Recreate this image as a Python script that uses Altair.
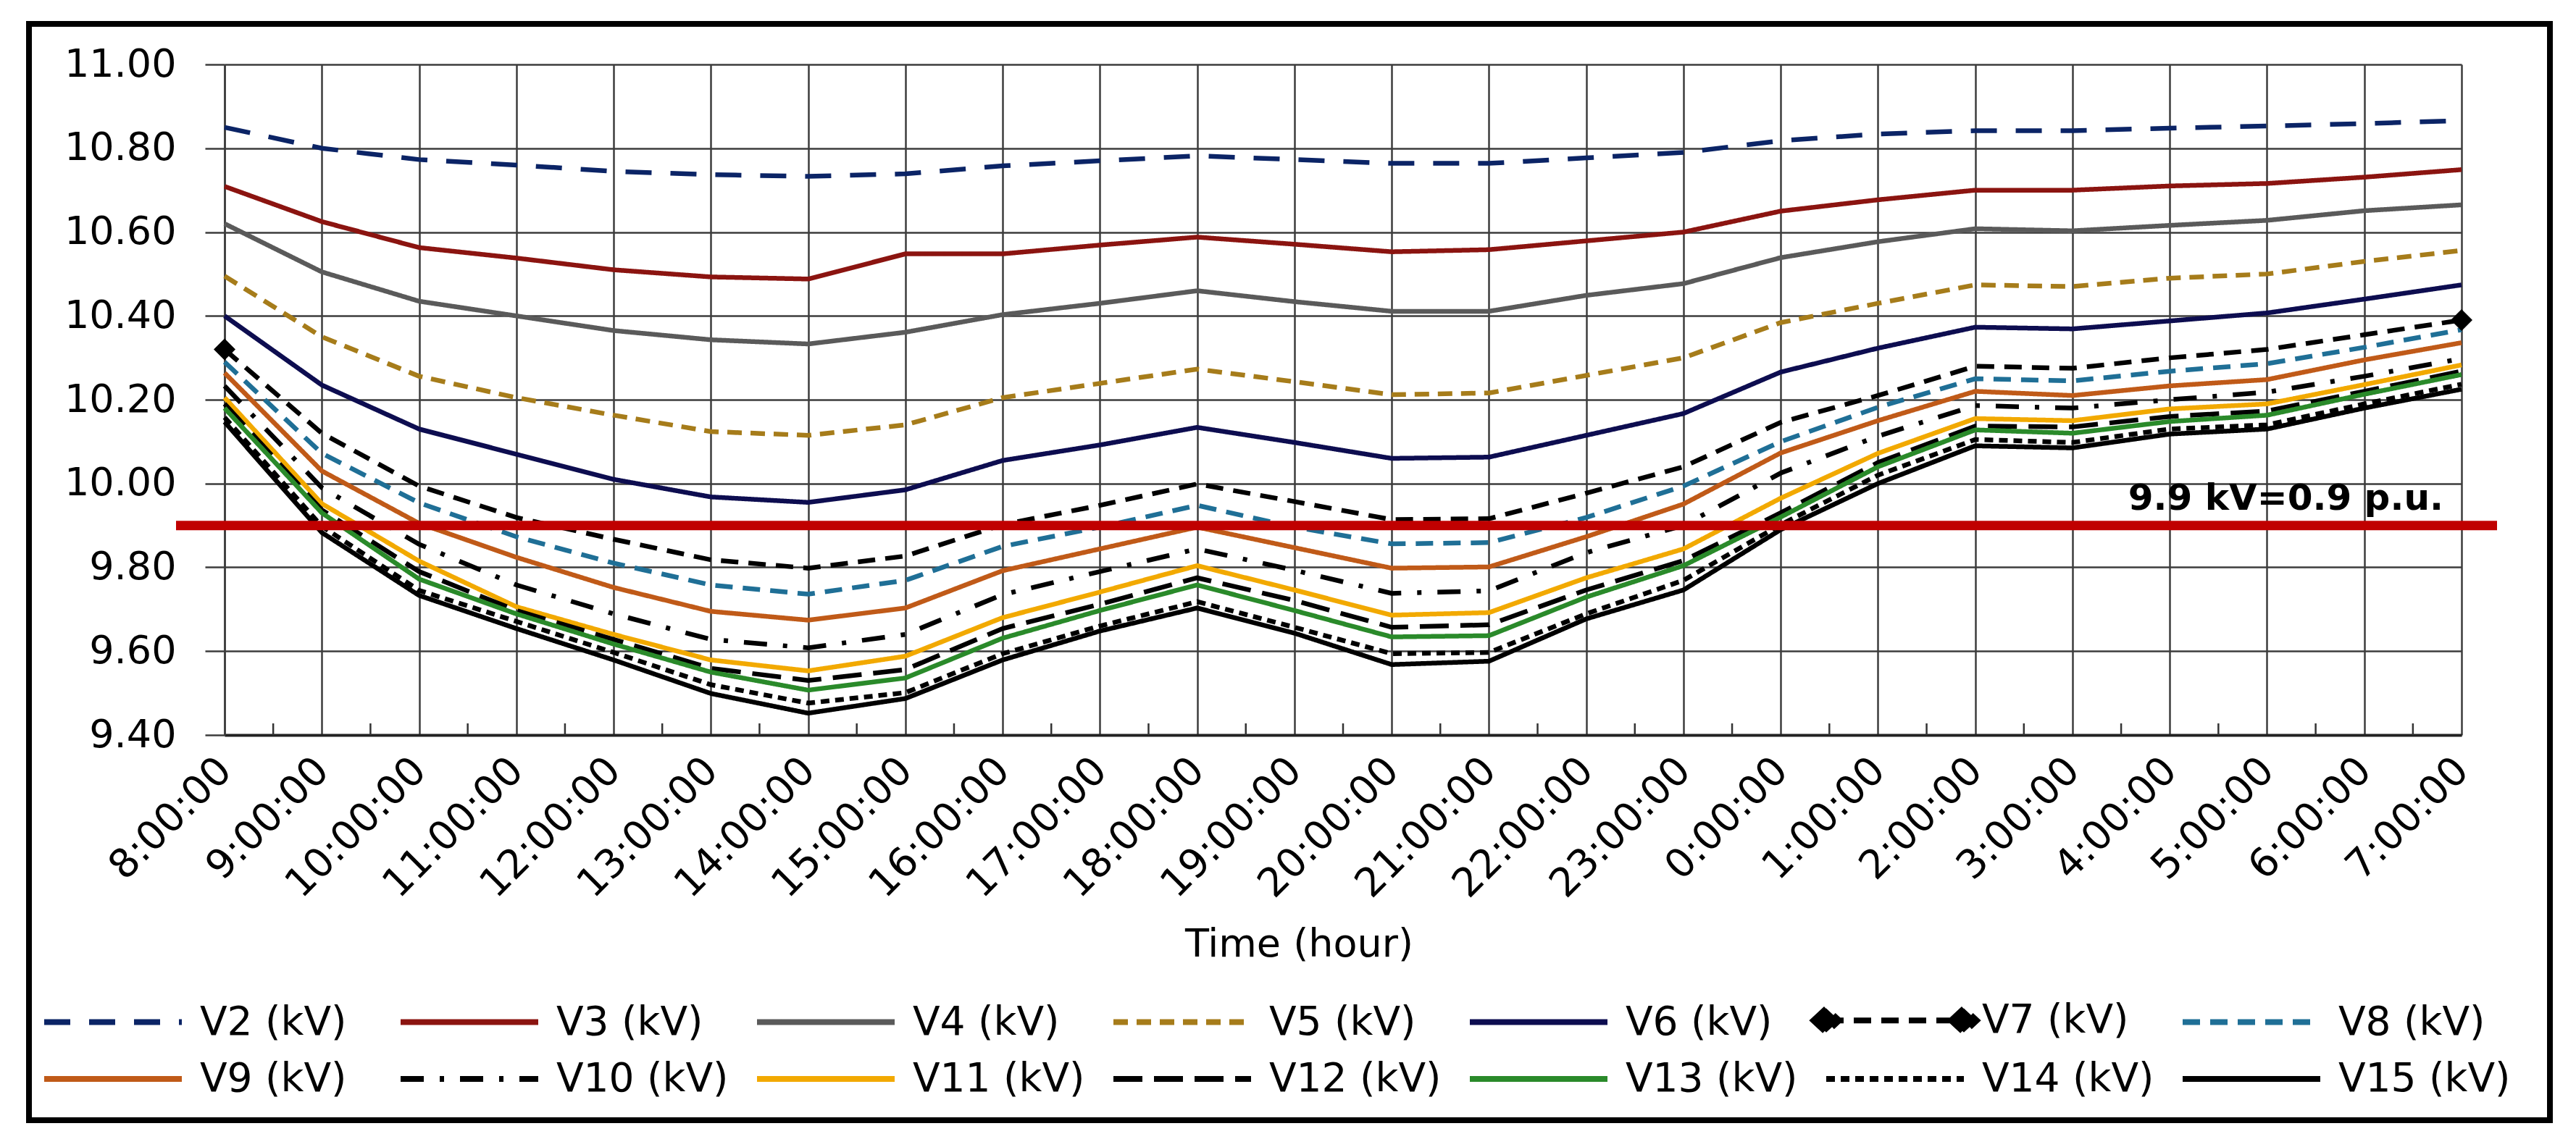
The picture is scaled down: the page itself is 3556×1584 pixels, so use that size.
import pandas as pd
import altair as alt

# hourly profile, 8:00 through 7:00 next morning
hours = ['8:00:00', '9:00:00', '10:00:00', '11:00:00', '12:00:00', '13:00:00',
         '14:00:00', '15:00:00', '16:00:00', '17:00:00', '18:00:00', '19:00:00',
         '20:00:00', '21:00:00', '22:00:00', '23:00:00', '0:00:00', '1:00:00',
         '2:00:00', '3:00:00', '4:00:00', '5:00:00', '6:00:00', '7:00:00']

series = ['V2 (kV)', 'V3 (kV)', 'V4 (kV)', 'V5 (kV)', 'V6 (kV)', 'V7 (kV)', 'V8 (kV)',
          'V9 (kV)', 'V10 (kV)', 'V11 (kV)', 'V12 (kV)', 'V13 (kV)', 'V14 (kV)', 'V15 (kV)']

v2 = [10.850, 10.800, 10.773, 10.760, 10.745, 10.737, 10.733, 10.739, 10.758, 10.770, 10.782, 10.773,
      10.764, 10.764, 10.777, 10.790, 10.818, 10.834, 10.842, 10.842, 10.848, 10.853, 10.859, 10.866]
v3 = [10.709, 10.625, 10.563, 10.538, 10.510, 10.493, 10.488, 10.548, 10.548, 10.569, 10.588, 10.571,
      10.553, 10.558, 10.579, 10.600, 10.650, 10.677, 10.700, 10.700, 10.710, 10.716, 10.731, 10.749]
v4 = [10.620, 10.505, 10.435, 10.400, 10.365, 10.343, 10.333, 10.361, 10.403, 10.430, 10.460, 10.434,
      10.411, 10.411, 10.449, 10.477, 10.539, 10.577, 10.608, 10.603, 10.616, 10.628, 10.651, 10.665]
v5 = [10.495, 10.350, 10.256, 10.205, 10.163, 10.124, 10.115, 10.140, 10.205, 10.239, 10.273, 10.243,
      10.212, 10.216, 10.258, 10.300, 10.384, 10.430, 10.474, 10.470, 10.490, 10.500, 10.530, 10.556]
v6 = [10.400, 10.235, 10.130, 10.070, 10.010, 9.968, 9.955, 9.985, 10.055, 10.092, 10.134, 10.098,
      10.060, 10.063, 10.115, 10.167, 10.266, 10.323, 10.373, 10.369, 10.388, 10.407, 10.440, 10.474]
v7 = [10.320, 10.120, 9.994, 9.919, 9.867, 9.818, 9.798, 9.827, 9.902, 9.948, 9.999, 9.957,
      9.914, 9.916, 9.977, 10.040, 10.146, 10.210, 10.280, 10.275, 10.300, 10.320, 10.355, 10.390]
v8 = [10.290, 10.072, 9.954, 9.873, 9.810, 9.758, 9.736, 9.769, 9.850, 9.896, 9.948, 9.896,
      9.856, 9.859, 9.919, 9.994, 10.100, 10.182, 10.250, 10.245, 10.268, 10.286, 10.325, 10.367]
v9 = [10.264, 10.030, 9.905, 9.824, 9.752, 9.695, 9.674, 9.703, 9.792, 9.844, 9.896, 9.847,
      9.798, 9.801, 9.873, 9.951, 10.073, 10.150, 10.220, 10.210, 10.233, 10.248, 10.295, 10.336]
v10 = [10.233, 9.990, 9.855, 9.758, 9.689, 9.628, 9.608, 9.640, 9.735, 9.790, 9.844, 9.793,
       9.738, 9.744, 9.835, 9.900, 10.025, 10.113, 10.186, 10.180, 10.200, 10.218, 10.256, 10.298]
v11 = [10.205, 9.952, 9.815, 9.706, 9.640, 9.579, 9.553, 9.588, 9.680, 9.741, 9.804, 9.746,
       9.686, 9.692, 9.775, 9.844, 9.965, 10.072, 10.155, 10.150, 10.178, 10.190, 10.236, 10.283]
v12 = [10.190, 9.937, 9.790, 9.697, 9.628, 9.559, 9.530, 9.556, 9.654, 9.712, 9.775, 9.721,
       9.657, 9.663, 9.746, 9.816, 9.930, 10.050, 10.137, 10.135, 10.160, 10.173, 10.220, 10.268]
v13 = [10.180, 9.930, 9.772, 9.689, 9.617, 9.550, 9.507, 9.536, 9.631, 9.697, 9.758, 9.697,
       9.634, 9.637, 9.729, 9.804, 9.920, 10.040, 10.128, 10.120, 10.148, 10.163, 10.213, 10.260]
v14 = [10.158, 9.898, 9.745, 9.671, 9.597, 9.520, 9.476, 9.501, 9.594, 9.660, 9.718, 9.657,
       9.594, 9.597, 9.689, 9.769, 9.902, 10.020, 10.105, 10.098, 10.130, 10.140, 10.190, 10.237]
v15 = [10.147, 9.883, 9.733, 9.654, 9.579, 9.499, 9.452, 9.487, 9.579, 9.648, 9.703, 9.643,
       9.568, 9.576, 9.677, 9.746, 9.890, 10.000, 10.090, 10.085, 10.118, 10.130, 10.180, 10.225]

values = [v2, v3, v4, v5, v6, v7, v8, v9, v10, v11, v12, v13, v14, v15]

colors = ['#0b2466', '#8b1410', '#5a5a5a', '#a67c1a', '#0d0d50', '#000000', '#1f6f96',
          '#c05a18', '#000000', '#f2a900', '#000000', '#2a8a2a', '#000000', '#000000']
dashes = [[36, 26], [1, 0], [1, 0], [20, 12], [1, 0], [24, 14], [24, 14],
          [1, 0], [32, 22, 6, 22], [1, 0], [40, 16], [1, 0], [12, 8], [1, 0]]

marked_series = 'V7 (kV)'
limit_kv = 9.9
limit_text = '9.9 kV=0.9 p.u.'
y_ticks = [9.4, 9.6, 9.8, 10.0, 10.2, 10.4, 10.6, 10.8, 11.0]

rows = []
for name, vals in zip(series, values):
    for i, (h, v) in enumerate(zip(hours, vals)):
        rows.append({'series': name, 'idx': i, 'hour': h, 'kv': v})
df = pd.DataFrame(rows)

FONT = 'DejaVu Sans'
W, H = 3088, 926
GRID = '#3c3c3c'

x_scale = alt.Scale(domain=[0, len(hours) - 1], nice=False, zero=False)
y_scale = alt.Scale(domain=[y_ticks[0], y_ticks[-1]], nice=False, zero=False)
label_expr = '[' + ','.join("'%s'" % h for h in hours) + '][datum.value]'

x_axis = alt.Axis(values=list(range(len(hours))), labelExpr=label_expr, labelAngle=-45,
                  labelAlign='right', labelBaseline='middle', labelFont=FONT,
                  labelFontSize=55, labelColor='black', labelPadding=40, labelOverlap=False,
                  labelLimit=500, ticks=False, grid=True, gridColor=GRID, gridWidth=2.5,
                  domainColor='#222222', domainWidth=4,
                  titleFont=FONT, titleFontSize=54, titleFontWeight='normal',
                  titleColor='black', titleX=1483, titleY=305, titleBaseline='alphabetic')
y_axis = alt.Axis(values=y_ticks, format='.2f', labelFont=FONT, labelFontSize=54,
                  labelColor='black', labelPadding=40, tickSize=27, tickWidth=2.5,
                  tickColor=GRID, grid=True, gridColor=GRID, gridWidth=2.5,
                  domainColor=GRID, domainWidth=2.5)


def xenc(field):
    return alt.X(field, scale=x_scale, axis=x_axis, title='Time (hour)')


def yenc(field):
    return alt.Y(field, scale=y_scale, axis=y_axis, title=None)


# long horizontal legend swatch: a path wider than its nominal symbol size,
# so the legend rows stay as tall as the label text
swatch = 'M-4,0H4'
swatch_marked = swatch + 'M-4.75,0L-4,-0.7L-3.25,0L-4,0.7ZM3.25,0L4,-0.7L4.75,0L4,0.7Z'
is_marked = "datum.value == '%s'" % marked_series
leg = alt.Legend(title=None, orient='none', legendX=-182, legendY=1292, columns=7,
                 direction='horizontal',
                 symbolType={'expr': "%s ? '%s' : '%s'" % (is_marked, swatch_marked, swatch)},
                 symbolFillColor={'expr': "%s ? 'black' : 'transparent'" % is_marked},
                 symbolSize=2256,
                 symbolStrokeWidth=8, labelFont=FONT, labelFontSize=55, labelColor='black',
                 labelOffset=92, columnPadding=5, rowPadding=20, gridAlign='all',
                 labelLimit=500)

lines = alt.Chart(df).mark_line(strokeWidth=6.5).encode(
    x=xenc('idx:Q'),
    y=yenc('kv:Q'),
    color=alt.Color('series:N', scale=alt.Scale(domain=series, range=colors), legend=leg),
    strokeDash=alt.StrokeDash('series:N', scale=alt.Scale(domain=series, range=dashes), legend=leg),
    order='idx:Q',
)

# Excel style tick marks between categories, pointing up from the axis
mids = pd.DataFrame({'idx': [i + 0.5 for i in range(len(hours) - 1)]})
mid_ticks = alt.Chart(mids).mark_rule(color='#333333', strokeWidth=2.5).encode(
    x=xenc('idx:Q'),
    y=alt.value(H - 16), y2=alt.value(H),
)

ends = df[(df['series'] == marked_series) & df['idx'].isin([0, len(hours) - 1])]
markers = alt.Chart(ends).mark_point(shape='diamond', filled=True, color='black', size=900, opacity=1).encode(
    x=xenc('idx:Q'),
    y=yenc('kv:Q'),
)

limit_df = pd.DataFrame({'kv': [limit_kv], 'text': [limit_text]})
limit = alt.Chart(limit_df).mark_rule(color='#c00000', strokeWidth=13).encode(
    y=yenc('kv:Q'),
    x=alt.value(-67), x2=alt.value(3137),
)
limit_label = alt.Chart(limit_df).mark_text(align='right', baseline='bottom', dy=-12, font=FONT,
                                            fontSize=50, fontWeight='bold', color='black').encode(
    y=yenc('kv:Q'),
    x=alt.value(3063),
    text='text:N',
)

frame = alt.Chart(pd.DataFrame({'a': [0]})).mark_rect(fillOpacity=0, stroke='black', strokeWidth=8).encode(
    x=alt.value(-270), x2=alt.value(3210), y=alt.value(-56), y2=alt.value(1458),
)

chart = alt.layer(lines, mid_ticks, markers, limit, limit_label, frame).properties(
    width=W, height=H,
    padding={'left': 302, 'top': 81, 'right': 150, 'bottom': 560},
    autosize=alt.AutoSizeParams(type='none'),
    background='white',
).configure_view(stroke=None)

chart.save('out.html', embed_options={'renderer': 'svg', 'actions': False})
